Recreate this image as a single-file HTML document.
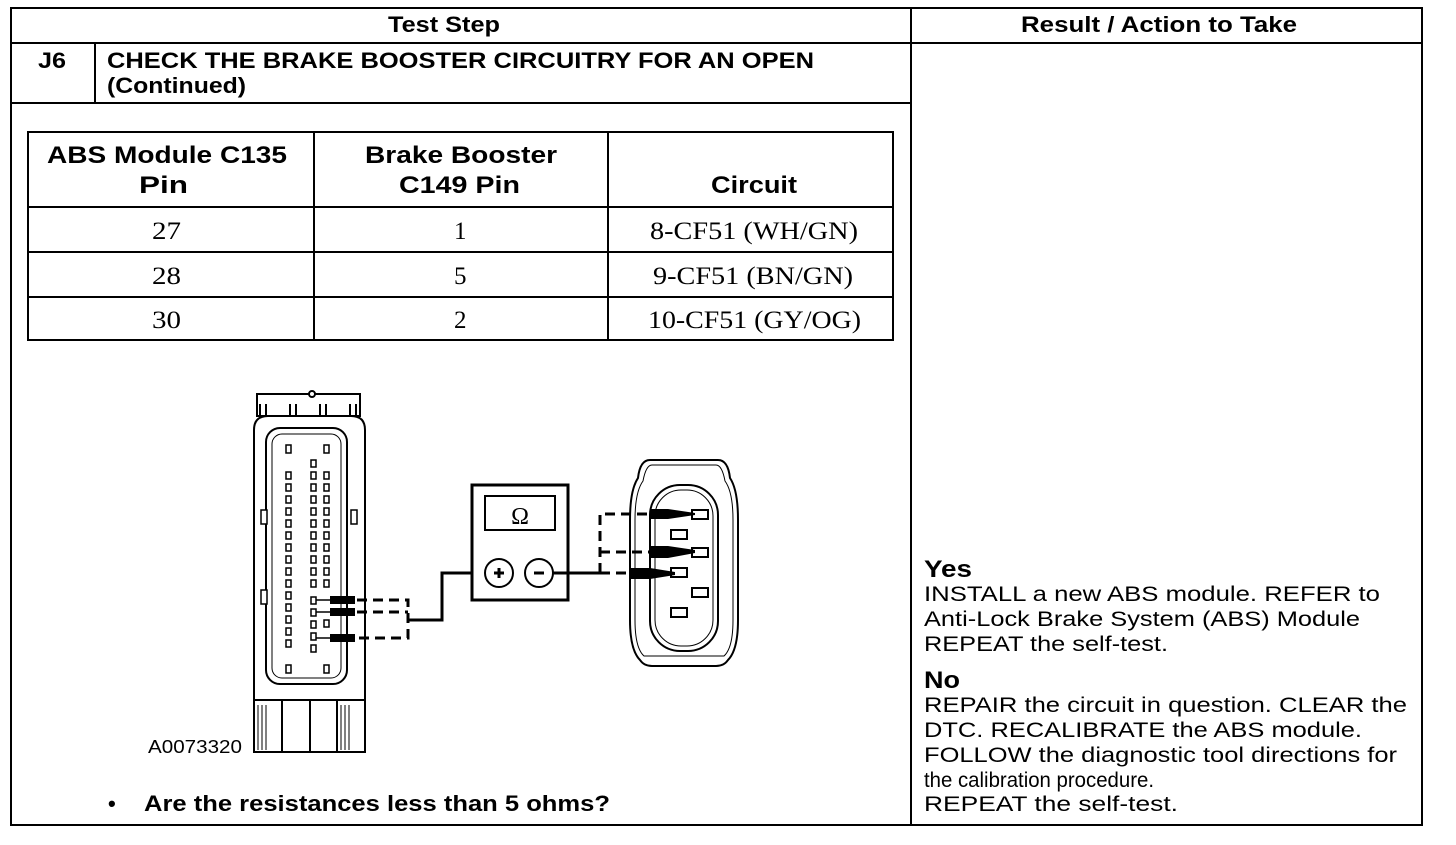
<!DOCTYPE html>
<html><head><style>
body{margin:0;background:#fff;}
svg text{font-family:"Liberation Sans",sans-serif;}
.s{font-family:"Liberation Serif",serif !important;}
</style></head><body>
<svg width="1456" height="840" viewBox="0 0 1456 840" xmlns="http://www.w3.org/2000/svg">
<rect width="1456" height="840" fill="#fff"/>
<g stroke="#000" stroke-width="2" fill="none">
<rect x="11" y="8" width="1411" height="817"/>
<line x1="911" y1="8" x2="911" y2="825"/>
<line x1="11" y1="43" x2="1422" y2="43"/>
<line x1="11" y1="103" x2="911" y2="103"/>
<line x1="95" y1="43" x2="95" y2="103"/>
<rect x="28" y="132" width="865" height="208"/>
<line x1="314" y1="132" x2="314" y2="340"/>
<line x1="608" y1="132" x2="608" y2="340"/>
<line x1="28" y1="207" x2="893" y2="207"/>
<line x1="28" y1="252" x2="893" y2="252"/>
<line x1="28" y1="297" x2="893" y2="297"/>
</g>
<g font-weight="bold" font-size="22" lengthAdjust="spacingAndGlyphs">
<text x="388" y="32" textLength="112" lengthAdjust="spacingAndGlyphs">Test Step</text>
<text x="1021" y="32" textLength="276" lengthAdjust="spacingAndGlyphs">Result / Action to Take</text>
<text x="47" y="163" font-size="24" textLength="240" lengthAdjust="spacingAndGlyphs">ABS Module C135</text>
<text x="139" y="193" font-size="24" textLength="49" lengthAdjust="spacingAndGlyphs">Pin</text>
<text x="365" y="163" font-size="24" textLength="192" lengthAdjust="spacingAndGlyphs">Brake Booster</text>
<text x="399" y="193" font-size="24" textLength="121" lengthAdjust="spacingAndGlyphs">C149 Pin</text>
<text x="711" y="193" font-size="24" textLength="86" lengthAdjust="spacingAndGlyphs">Circuit</text>
<text x="38" y="68" textLength="28" lengthAdjust="spacingAndGlyphs">J6</text>
<text x="107" y="68" textLength="707" lengthAdjust="spacingAndGlyphs">CHECK THE BRAKE BOOSTER CIRCUITRY FOR AN OPEN</text>
<text x="107" y="93" textLength="139" lengthAdjust="spacingAndGlyphs">(Continued)</text>
<text x="108" y="811">•</text>
<text x="144" y="811" textLength="466" lengthAdjust="spacingAndGlyphs">Are the resistances less than 5 ohms?</text>
</g>
<g font-size="25">
<text class="s" x="152" y="239" textLength="29" lengthAdjust="spacingAndGlyphs">27</text>
<text class="s" x="454" y="239">1</text>
<text class="s" x="650" y="239" textLength="208" lengthAdjust="spacingAndGlyphs">8-CF51 (WH/GN)</text>
<text class="s" x="152" y="284" textLength="29" lengthAdjust="spacingAndGlyphs">28</text>
<text class="s" x="454" y="284">5</text>
<text class="s" x="653" y="284" textLength="200" lengthAdjust="spacingAndGlyphs">9-CF51 (BN/GN)</text>
<text class="s" x="152" y="328" textLength="29" lengthAdjust="spacingAndGlyphs">30</text>
<text class="s" x="454" y="328">2</text>
<text class="s" x="648" y="328" textLength="213" lengthAdjust="spacingAndGlyphs">10-CF51 (GY/OG)</text>
</g>
<g font-size="21">
<text x="924" y="577" font-weight="bold" font-size="24" textLength="48" lengthAdjust="spacingAndGlyphs">Yes</text>
<text x="924" y="601" textLength="456" lengthAdjust="spacingAndGlyphs">INSTALL a new ABS module. REFER to</text>
<text x="924" y="626" textLength="436" lengthAdjust="spacingAndGlyphs">Anti-Lock Brake System (ABS) Module</text>
<text x="924" y="651" textLength="244" lengthAdjust="spacingAndGlyphs">REPEAT the self-test.</text>
<text x="924" y="688" font-weight="bold" font-size="24" textLength="36" lengthAdjust="spacingAndGlyphs">No</text>
<text x="924" y="712" textLength="483" lengthAdjust="spacingAndGlyphs">REPAIR the circuit in question. CLEAR the</text>
<text x="924" y="737" textLength="438" lengthAdjust="spacingAndGlyphs">DTC. RECALIBRATE the ABS module.</text>
<text x="924" y="762" textLength="473" lengthAdjust="spacingAndGlyphs">FOLLOW the diagnostic tool directions for</text>
<text x="924" y="787" textLength="230" lengthAdjust="spacingAndGlyphs">the calibration procedure.</text>
<text x="924" y="811" textLength="254" lengthAdjust="spacingAndGlyphs">REPEAT  the self-test.</text>
<text x="148" y="753" font-size="18" textLength="94" lengthAdjust="spacingAndGlyphs">A0073320</text>
</g>
<!-- ABS connector -->
<g stroke="#000" stroke-width="2" fill="#fff">
<rect x="257" y="394" width="103" height="22"/>
<circle cx="312" cy="394" r="3"/>
<path d="M260 416 V404 M266 416 V404 M290 416 V404 M296 416 V404 M320 416 V404 M326 416 V404 M350 416 V404 M356 416 V404" fill="none"/>
<path d="M254 430 Q254 416 268 416 H351 Q365 416 365 430 V700 H254 Z"/>
<rect x="266" y="428" width="81" height="256" rx="14"/>
<rect x="272" y="434" width="69" height="244" rx="10" stroke-width="1"/>
<rect x="261" y="510" width="6" height="14" stroke-width="1.5"/>
<rect x="261" y="590" width="6" height="14" stroke-width="1.5"/>
<rect x="351" y="510" width="6" height="14" stroke-width="1.5"/>
<rect x="254" y="700" width="111" height="52"/>
<path d="M282 700 V752 M310 700 V752 M337 700 V752" fill="none"/>
<path d="M258 705 V750 M262 705 V750 M266 705 V750 M341 705 V750 M345 705 V750 M349 705 V750" fill="none" stroke-width="1"/>
</g>
<g fill="#fff" stroke="#000" stroke-width="1.5">
<rect x="286" y="445" width="5" height="8"/>
<rect x="324" y="445" width="5" height="8"/>
<rect x="286" y="665" width="5" height="8"/>
<rect x="324" y="665" width="5" height="8"/>
</g>
<g fill="#fff" stroke="#000" stroke-width="1.5">
<rect x="286" y="472" width="5" height="7"/><rect x="286" y="484" width="5" height="7"/><rect x="286" y="496" width="5" height="7"/><rect x="286" y="508" width="5" height="7"/><rect x="286" y="520" width="5" height="7"/><rect x="286" y="532" width="5" height="7"/><rect x="286" y="544" width="5" height="7"/><rect x="286" y="556" width="5" height="7"/><rect x="286" y="568" width="5" height="7"/><rect x="286" y="580" width="5" height="7"/><rect x="286" y="592" width="5" height="7"/><rect x="286" y="604" width="5" height="7"/><rect x="286" y="616" width="5" height="7"/><rect x="286" y="628" width="5" height="7"/><rect x="286" y="640" width="5" height="7"/>
<rect x="311" y="460" width="5" height="7"/><rect x="311" y="472" width="5" height="7"/><rect x="311" y="484" width="5" height="7"/><rect x="311" y="496" width="5" height="7"/><rect x="311" y="508" width="5" height="7"/><rect x="311" y="520" width="5" height="7"/><rect x="311" y="532" width="5" height="7"/><rect x="311" y="544" width="5" height="7"/><rect x="311" y="556" width="5" height="7"/><rect x="311" y="568" width="5" height="7"/><rect x="311" y="580" width="5" height="7"/><rect x="311" y="597" width="5" height="7"/><rect x="311" y="609" width="5" height="7"/><rect x="311" y="621" width="5" height="7"/><rect x="311" y="633" width="5" height="7"/><rect x="311" y="645" width="5" height="7"/>
<rect x="324" y="472" width="5" height="7"/><rect x="324" y="484" width="5" height="7"/><rect x="324" y="496" width="5" height="7"/><rect x="324" y="508" width="5" height="7"/><rect x="324" y="520" width="5" height="7"/><rect x="324" y="532" width="5" height="7"/><rect x="324" y="544" width="5" height="7"/><rect x="324" y="556" width="5" height="7"/><rect x="324" y="568" width="5" height="7"/><rect x="324" y="580" width="5" height="7"/><rect x="324" y="620" width="5" height="7"/>
</g>
<path d="M316 600 H340 M316 612 H340 M316 638 H340" stroke="#000" stroke-width="1.5"/>
<path d="M330 596 H355 V604 H330 Z M330 608 H355 V616 H330 Z M330 634 H355 V642 H330 Z" fill="#000"/>
<g stroke="#000" stroke-width="3" fill="none" stroke-dasharray="10,6">
<path d="M357 600 H408 V638 H357 M357 612 H408"/>
</g>
<path d="M408 620 H442 V573 H485" stroke="#000" stroke-width="3" fill="none"/>
<!-- meter -->
<rect x="472" y="485" width="96" height="115" stroke="#000" stroke-width="3" fill="#fff"/>
<rect x="485" y="496" width="70" height="34" stroke="#000" stroke-width="2" fill="#fff"/>
<text class="s" x="520" y="524" font-size="24" text-anchor="middle">Ω</text>
<circle cx="499" cy="573" r="14" stroke="#000" stroke-width="2" fill="#fff"/>
<circle cx="539" cy="573" r="14" stroke="#000" stroke-width="2" fill="#fff"/>
<path d="M494 573 H504 M499 568 V578 M534 573 H544" stroke="#000" stroke-width="3"/>
<path d="M553 573 H600" stroke="#000" stroke-width="3"/>
<g stroke="#000" stroke-width="3" fill="none" stroke-dasharray="10,6">
<path d="M600 573 H640 M600 573 V514 H650 M600 552 H650"/>
</g>
<!-- booster connector -->
<g stroke="#000" fill="none">
<path d="M650 460 H718 Q728 460 730 478 Q738 490 738 520 V620 Q738 650 728 660 Q724 666 716 666 H652 Q644 666 640 660 Q630 650 630 620 V520 Q630 490 638 478 Q640 460 650 460 Z" stroke-width="2"/>
<path d="M652 465 H716 Q722 465 725 481 Q733 492 733 520 V620 Q733 648 724 656 H644 Q635 648 635 620 V520 Q635 492 643 481 Q646 465 652 465 Z" stroke-width="1"/>
<rect x="650" y="485" width="68" height="166" rx="30" stroke-width="2"/>
<rect x="655" y="490" width="58" height="156" rx="26" stroke-width="1"/>
</g>
<g fill="#fff" stroke="#000" stroke-width="2">
<rect x="692" y="510" width="16" height="9"/>
<rect x="671" y="530" width="16" height="9"/>
<rect x="692" y="548" width="16" height="9"/>
<rect x="671" y="568" width="16" height="9"/>
<rect x="692" y="588" width="16" height="9"/>
<rect x="671" y="608" width="16" height="9"/>
</g>
<g fill="#000">
<path d="M650 509 H668 L695 513 V515 L668 519 H650 Z"/>
<path d="M650 546 H668 L695 550 V553 L668 558 H650 Z"/>
<path d="M631 568 H650 L675 572 V575 L650 579 H631 Z"/>
</g>
</svg>
</body></html>
